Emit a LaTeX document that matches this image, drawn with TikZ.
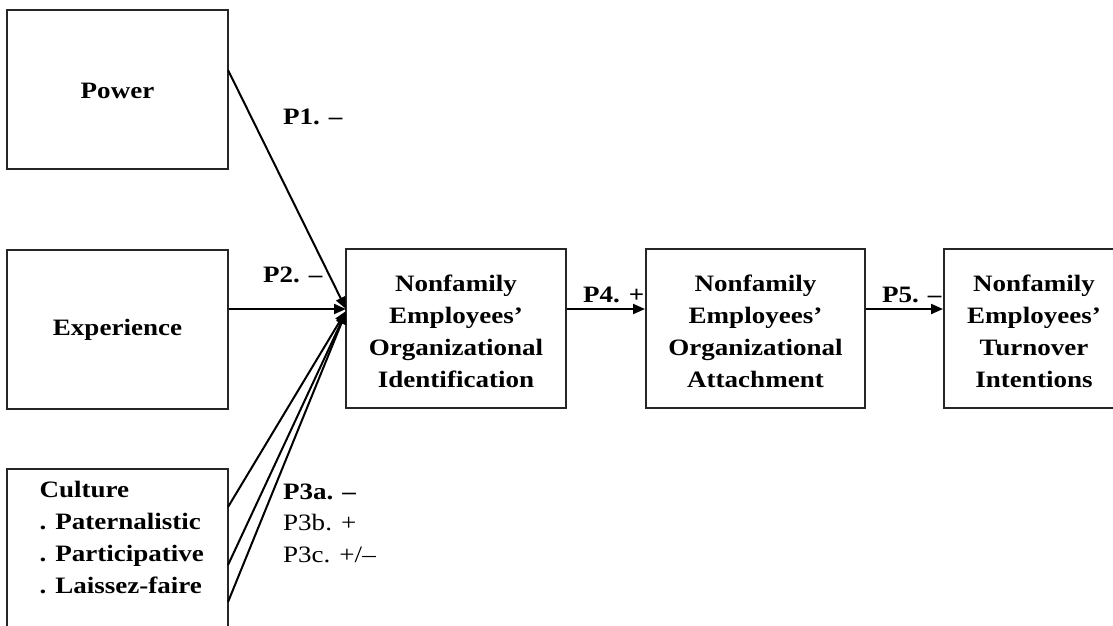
\documentclass[tikz,border=0pt]{standalone}
\usepackage{fontspec}
\setmainfont{Liberation Serif}[FakeStretch=1.15]
\usetikzlibrary{arrows.meta,calc}
\begin{document}
\begin{tikzpicture}[x=1pt,y=-1pt,
  box/.style={draw=black!85,line width=2pt,inner sep=0pt},
  lbl/.style={font=\fontsize{23.5}{32}\selectfont\bfseries,align=center},
  conn/.style={line width=2pt,-{Triangle[length=12pt,width=10pt]}},
  plab/.style={font=\fontsize{23.5}{32}\selectfont,anchor=base west,inner sep=0pt},
  bplab/.style={plab,font=\fontsize{23.5}{32}\selectfont\bfseries}]
\useasboundingbox (0,0) rectangle (1113,625);
\clip (0,0) rectangle (1113,625);
% boxes
\node[box,minimum width=221pt,minimum height=159pt] (power) at (117.5,89.5) {};
\node[box,minimum width=221pt,minimum height=159pt] (exp) at (117.5,329) {};
\node[box,minimum width=221pt,minimum height=180pt] (cult) at (117.5,559) {};
\node[box,minimum width=220pt,minimum height=159pt] (ident) at (456,328.5) {};
\node[box,minimum width=219pt,minimum height=159pt] (attach) at (755.5,328.5) {};
\node[box,minimum width=200pt,minimum height=159pt] (turn) at (1044,328.5) {};
% texts
\node[lbl] (tpower) at (117.5,91) {Power};
\node[lbl] (texp) at (117.5,330) {Experience};
\node[lbl] (tident) at (456,331) {Nonfamily\\Employees’\\Organizational\\Identification};
\node[lbl] (tattach) at (755.5,331) {Nonfamily\\Employees’\\Organizational\\Attachment};
\node[lbl] (tturn) at (1034,331) {Nonfamily\\Employees’\\Turnover\\Intentions};
\node[lbl,align=left,anchor=north west] (tcult) at (36,478) {Culture\\. Paternalistic\\. Participative\\. Laissez-faire};
% anchor points
\coordinate (hub) at (346,309);
\coordinate (hub2) at (346,311);
\coordinate (hub3) at (346,312);
\coordinate (pout) at (228,70);
\coordinate (c1) at (228,507);
\coordinate (c2) at (228,565);
\coordinate (c3) at (228,602);
% connectors
\draw[conn] (pout) -- (hub);
\draw[conn] (exp.east |- hub) -- (hub);
\draw[conn] (c1) -- (hub2);
\draw[conn] (c2) -- (hub3);
\draw[conn] (c3) -- (hub3);
\draw[conn] (ident.east |- hub) -- (attach.west |- hub);
\draw[conn] (attach.east |- hub) -- (turn.west |- hub);
% labels
\node[bplab] (p1) at (283,124) {P1. –};
\node[bplab] (p2) at (263,282) {P2. –};
\node[bplab] (p3a) at (283,499) {P3a. –};
\node[plab] (p3b) at (283,530) {P3b. +};
\node[plab] (p3c) at (283,562) {P3c. +/–};
\node[bplab] (p4) at (583,302) {P4. +};
\node[bplab] (p5) at (882,302) {P5. –};
\end{tikzpicture}
\end{document}
